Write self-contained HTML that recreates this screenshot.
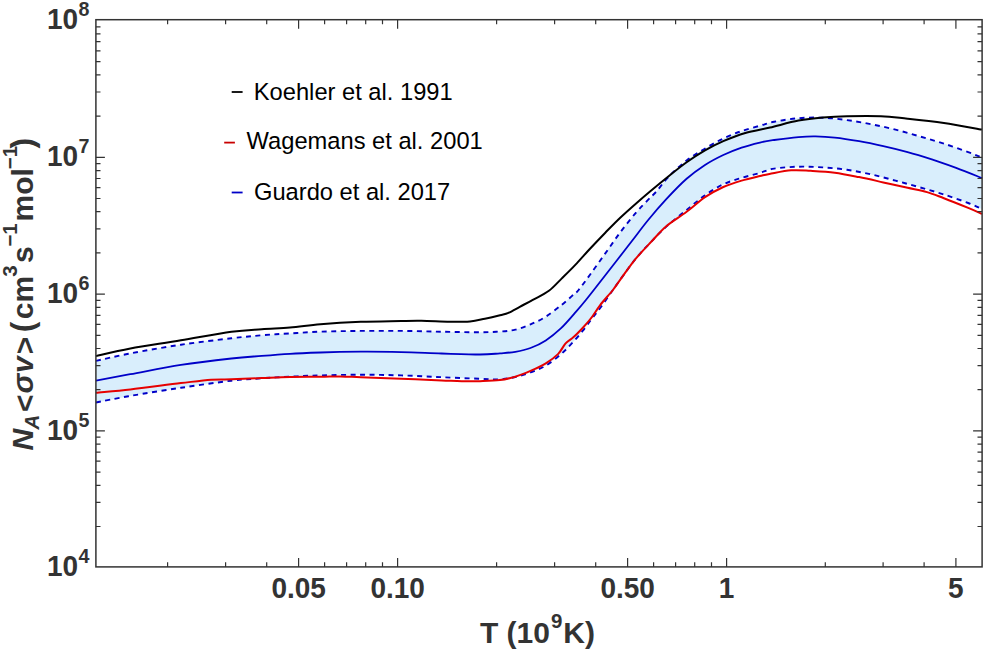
<!DOCTYPE html>
<html lang="en">
<head>
<meta charset="utf-8">
<title>Reaction rate plot</title>
<style>
html,body{margin:0;padding:0;background:#fff;}
body{width:990px;height:655px;overflow:hidden;}
svg{display:block;}
text{font-family:"Liberation Sans", Arial, Helvetica, sans-serif;}
.tk{font-weight:bold;font-size:29px;fill:#333;}
.ax{font-weight:bold;font-size:30px;fill:#333;}
.lg{font-size:23.7px;fill:#000;}
</style>
</head>
<body>
<svg width="990" height="655" viewBox="0 0 990 655">
<rect x="0" y="0" width="990" height="655" fill="#ffffff"/>
<path d="M96.0 360.9 C101.7 359.6 116.2 356.1 130.4 353.4 C144.6 350.7 164.1 347.2 180.9 344.7 C197.7 342.2 217.9 339.9 231.4 338.3 C244.9 336.7 251.9 336.1 261.7 335.3 C271.5 334.5 280.2 334.0 290.0 333.4 C299.8 332.8 308.6 332.1 320.4 331.7 C332.2 331.3 347.3 331.0 360.8 330.9 C374.3 330.8 387.7 330.8 401.2 330.9 C414.7 331.0 428.5 331.5 441.6 331.7 C454.7 331.9 470.3 332.3 480.0 332.3 C489.7 332.3 494.1 331.9 500.0 331.5 C505.9 331.1 510.2 330.9 515.3 329.7 C520.4 328.5 525.4 326.6 530.5 324.4 C535.6 322.2 540.7 319.9 545.8 316.7 C550.9 313.5 556.8 308.7 561.1 305.3 C565.4 301.9 568.9 298.7 571.8 296.1 C574.7 293.6 575.6 293.6 578.6 290.0 C581.6 286.4 585.5 280.8 590.0 274.7 C594.5 268.6 600.2 260.5 605.3 253.4 C610.4 246.3 615.4 238.8 620.5 232.0 C625.6 225.2 631.2 218.2 635.8 212.9 C640.4 207.6 644.6 203.5 648.0 199.9 C651.4 196.3 653.0 195.3 656.4 191.5 C659.8 187.7 663.3 182.2 668.3 177.0 C673.3 171.8 680.5 165.2 686.6 160.5 C692.7 155.8 698.9 152.3 705.0 148.6 C711.1 144.9 717.2 141.4 723.3 138.5 C729.4 135.6 735.5 133.2 741.6 131.1 C747.7 129.0 754.5 127.2 759.9 125.7 C765.3 124.2 767.8 123.0 774.2 121.8 C780.6 120.5 790.4 118.9 798.5 118.2 C806.6 117.5 814.6 117.4 822.7 117.7 C830.8 118.0 838.9 119.0 847.0 120.1 C855.1 121.2 863.1 122.6 871.2 124.2 C879.3 125.8 887.4 127.6 895.5 129.6 C903.6 131.6 911.6 134.1 919.7 136.4 C927.8 138.7 935.8 141.0 943.9 143.6 C952.0 146.2 961.9 149.8 968.2 152.1 C974.6 154.4 979.7 156.6 982.0 157.5 L982.0 209.1 C979.7 208.1 974.6 205.4 968.2 203.0 C961.9 200.6 952.0 197.1 943.9 194.5 C935.8 191.9 927.8 189.6 919.7 187.3 C911.6 185.0 903.6 182.8 895.5 180.7 C887.4 178.5 879.3 176.2 871.2 174.4 C863.1 172.6 855.1 171.0 847.0 169.8 C838.9 168.6 830.8 167.9 822.7 167.4 C814.6 166.9 806.6 166.5 798.5 166.7 C790.4 166.9 780.6 167.6 774.2 168.6 C767.8 169.6 765.3 171.3 759.9 172.9 C754.5 174.5 747.7 176.0 741.6 177.9 C735.5 179.8 729.4 181.4 723.3 184.3 C717.2 187.2 711.1 191.0 705.0 195.3 C698.9 199.6 693.1 204.7 686.6 209.9 C680.1 215.1 672.2 221.3 666.3 226.6 C660.4 231.9 656.2 236.6 651.1 241.9 C646.0 247.2 640.9 252.5 635.8 258.7 C630.7 264.9 624.3 274.1 620.5 279.3 C616.7 284.5 616.3 285.2 612.9 290.0 C609.5 294.8 603.5 303.5 600.0 308.3 C596.5 313.1 594.5 315.2 591.6 319.0 C588.7 322.8 585.7 327.1 582.4 331.2 C579.1 335.3 575.3 339.6 571.8 343.4 C568.2 347.2 565.4 350.4 561.1 354.1 C556.8 357.8 550.9 362.6 545.8 365.6 C540.7 368.7 535.6 370.5 530.5 372.4 C525.4 374.3 520.4 375.9 515.3 377.0 C510.2 378.1 505.9 379.0 500.0 379.3 C494.1 379.6 489.7 379.2 480.0 378.8 C470.3 378.4 454.7 377.8 441.6 377.2 C428.5 376.6 414.7 375.8 401.2 375.4 C387.7 375.0 374.3 374.7 360.8 374.7 C347.3 374.7 332.2 375.1 320.4 375.4 C308.6 375.7 299.8 376.2 290.0 376.7 C280.2 377.2 271.5 377.6 261.7 378.3 C251.9 379.0 244.9 379.1 231.4 380.7 C217.9 382.3 197.7 385.3 180.9 387.8 C164.1 390.3 144.6 393.4 130.4 395.9 C116.2 398.3 101.7 401.4 96.0 402.5 Z" fill="#d9eefc" stroke="none"/>
<path d="M96.0 360.9 C101.7 359.6 116.2 356.1 130.4 353.4 C144.6 350.7 164.1 347.2 180.9 344.7 C197.7 342.2 217.9 339.9 231.4 338.3 C244.9 336.7 251.9 336.1 261.7 335.3 C271.5 334.5 280.2 334.0 290.0 333.4 C299.8 332.8 308.6 332.1 320.4 331.7 C332.2 331.3 347.3 331.0 360.8 330.9 C374.3 330.8 387.7 330.8 401.2 330.9 C414.7 331.0 428.5 331.5 441.6 331.7 C454.7 331.9 470.3 332.3 480.0 332.3 C489.7 332.3 494.1 331.9 500.0 331.5 C505.9 331.1 510.2 330.9 515.3 329.7 C520.4 328.5 525.4 326.6 530.5 324.4 C535.6 322.2 540.7 319.9 545.8 316.7 C550.9 313.5 556.8 308.7 561.1 305.3 C565.4 301.9 568.9 298.7 571.8 296.1 C574.7 293.6 575.6 293.6 578.6 290.0 C581.6 286.4 585.5 280.8 590.0 274.7 C594.5 268.6 600.2 260.5 605.3 253.4 C610.4 246.3 615.4 238.8 620.5 232.0 C625.6 225.2 631.2 218.2 635.8 212.9 C640.4 207.6 644.6 203.5 648.0 199.9 C651.4 196.3 653.0 195.3 656.4 191.5 C659.8 187.7 663.3 182.2 668.3 177.0 C673.3 171.8 680.5 165.2 686.6 160.5 C692.7 155.8 698.9 152.3 705.0 148.6 C711.1 144.9 717.2 141.4 723.3 138.5 C729.4 135.6 735.5 133.2 741.6 131.1 C747.7 129.0 754.5 127.2 759.9 125.7 C765.3 124.2 767.8 123.0 774.2 121.8 C780.6 120.5 790.4 118.9 798.5 118.2 C806.6 117.5 814.6 117.4 822.7 117.7 C830.8 118.0 838.9 119.0 847.0 120.1 C855.1 121.2 863.1 122.6 871.2 124.2 C879.3 125.8 887.4 127.6 895.5 129.6 C903.6 131.6 911.6 134.1 919.7 136.4 C927.8 138.7 935.8 141.0 943.9 143.6 C952.0 146.2 961.9 149.8 968.2 152.1 C974.6 154.4 979.7 156.6 982.0 157.5" fill="none" stroke="#0000c8" stroke-width="1.9" stroke-dasharray="5 4.5"/>
<path d="M96.0 402.5 C101.7 401.4 116.2 398.3 130.4 395.9 C144.6 393.4 164.1 390.3 180.9 387.8 C197.7 385.3 217.9 382.3 231.4 380.7 C244.9 379.1 251.9 379.0 261.7 378.3 C271.5 377.6 280.2 377.2 290.0 376.7 C299.8 376.2 308.6 375.7 320.4 375.4 C332.2 375.1 347.3 374.7 360.8 374.7 C374.3 374.7 387.7 375.0 401.2 375.4 C414.7 375.8 428.5 376.6 441.6 377.2 C454.7 377.8 470.3 378.4 480.0 378.8 C489.7 379.2 494.1 379.6 500.0 379.3 C505.9 379.0 510.2 378.1 515.3 377.0 C520.4 375.9 525.4 374.3 530.5 372.4 C535.6 370.5 540.7 368.7 545.8 365.6 C550.9 362.6 556.8 357.8 561.1 354.1 C565.4 350.4 568.2 347.2 571.8 343.4 C575.3 339.6 579.1 335.3 582.4 331.2 C585.7 327.1 588.7 322.8 591.6 319.0 C594.5 315.2 596.5 313.1 600.0 308.3 C603.5 303.5 609.5 294.8 612.9 290.0 C616.3 285.2 616.7 284.5 620.5 279.3 C624.3 274.1 630.7 264.9 635.8 258.7 C640.9 252.5 646.0 247.2 651.1 241.9 C656.2 236.6 660.4 231.9 666.3 226.6 C672.2 221.3 680.1 215.1 686.6 209.9 C693.1 204.7 698.9 199.6 705.0 195.3 C711.1 191.0 717.2 187.2 723.3 184.3 C729.4 181.4 735.5 179.8 741.6 177.9 C747.7 176.0 754.5 174.5 759.9 172.9 C765.3 171.3 767.8 169.6 774.2 168.6 C780.6 167.6 790.4 166.9 798.5 166.7 C806.6 166.5 814.6 166.9 822.7 167.4 C830.8 167.9 838.9 168.6 847.0 169.8 C855.1 171.0 863.1 172.6 871.2 174.4 C879.3 176.2 887.4 178.5 895.5 180.7 C903.6 182.8 911.6 185.0 919.7 187.3 C927.8 189.6 935.8 191.9 943.9 194.5 C952.0 197.1 961.9 200.6 968.2 203.0 C974.6 205.4 979.7 208.1 982.0 209.1" fill="none" stroke="#0000c8" stroke-width="1.9" stroke-dasharray="5 4.5"/>
<path d="M96.0 380.7 C101.7 379.6 116.2 376.8 130.4 374.2 C144.6 371.6 164.1 367.5 180.9 364.9 C197.7 362.3 217.9 360.0 231.4 358.5 C244.9 357.0 251.9 356.7 261.7 355.9 C271.5 355.1 280.2 354.4 290.0 353.8 C299.8 353.2 308.6 352.9 320.4 352.5 C332.2 352.1 347.3 351.8 360.8 351.7 C374.3 351.6 387.7 351.8 401.2 352.1 C414.7 352.4 428.5 353.1 441.6 353.5 C454.7 353.9 470.3 354.5 480.0 354.5 C489.7 354.5 494.1 353.8 500.0 353.4 C505.9 352.9 510.2 352.7 515.3 351.8 C520.4 350.9 525.4 349.9 530.5 348.0 C535.6 346.1 540.7 343.7 545.8 340.4 C550.9 337.1 556.0 333.0 561.1 328.2 C566.2 323.4 572.2 316.1 576.3 311.4 C580.4 306.7 581.7 305.2 585.9 300.0 C590.1 294.8 596.4 286.7 601.6 280.0 C606.8 273.3 612.0 266.7 617.2 260.0 C622.4 253.3 627.5 246.7 632.7 240.0 C637.9 233.3 642.6 226.8 648.2 220.0 C653.8 213.2 659.9 206.1 666.3 199.2 C672.7 192.3 680.1 184.5 686.6 178.8 C693.1 173.1 698.9 169.0 705.0 165.0 C711.1 161.0 717.2 157.9 723.3 155.0 C729.4 152.1 735.5 149.7 741.6 147.6 C747.7 145.5 754.5 143.8 759.9 142.5 C765.3 141.2 767.8 140.9 774.2 140.0 C780.6 139.1 791.6 137.7 798.5 137.1 C805.4 136.5 809.5 136.3 815.5 136.4 C821.5 136.5 827.5 136.8 834.8 137.6 C842.1 138.4 851.0 139.8 859.1 141.2 C867.2 142.6 875.2 144.3 883.3 146.1 C891.4 147.9 899.5 149.9 907.6 152.1 C915.7 154.3 923.7 156.8 931.8 159.4 C939.9 162.0 947.7 164.8 956.1 167.9 C964.5 171.0 977.7 176.4 982.0 178.1" fill="none" stroke="#0000c8" stroke-width="1.8" stroke-linejoin="round"/>
<path d="M96.0 356.1 C101.7 354.8 116.2 351.0 130.4 348.4 C144.6 345.8 164.1 343.1 180.9 340.3 C197.7 337.5 217.9 333.7 231.4 331.8 C244.9 329.9 251.9 329.9 261.7 329.2 C271.5 328.5 280.2 328.4 290.0 327.6 C299.8 326.8 308.6 325.2 320.4 324.2 C332.2 323.2 347.3 322.3 360.8 321.8 C374.3 321.3 391.1 321.2 401.2 321.0 C411.3 320.8 413.3 320.7 421.4 320.8 C429.5 320.9 441.6 321.7 449.7 321.8 C457.8 321.9 464.1 321.9 470.0 321.4 C475.9 320.9 479.9 319.7 484.9 318.7 C489.9 317.7 496.1 316.2 500.0 315.2 C503.9 314.2 505.1 314.3 508.4 312.9 C511.7 311.5 515.7 309.0 519.8 306.8 C523.9 304.6 527.9 302.6 532.8 299.9 C537.6 297.2 544.1 294.4 548.9 290.8 C553.7 287.2 557.2 282.9 561.6 278.6 C566.0 274.3 570.6 269.9 575.3 264.9 C580.0 259.9 585.0 254.2 590.0 248.8 C595.0 243.4 600.2 237.9 605.3 232.7 C610.4 227.5 615.4 222.3 620.5 217.5 C625.6 212.7 630.9 208.0 635.8 203.7 C640.7 199.4 644.6 196.0 650.0 191.5 C655.4 187.0 662.2 181.4 668.3 176.5 C674.4 171.6 680.5 166.7 686.6 162.3 C692.7 158.0 698.9 153.9 705.0 150.4 C711.1 146.9 716.6 144.1 723.3 141.2 C730.0 138.3 737.5 135.3 745.3 133.0 C753.1 130.7 761.1 129.6 770.0 127.5 C778.9 125.4 789.7 122.3 798.5 120.6 C807.3 118.9 814.6 118.2 822.7 117.5 C830.8 116.8 837.3 116.4 847.0 116.2 C856.7 116.0 870.8 115.8 880.9 116.2 C891.0 116.6 897.1 117.6 907.6 118.7 C918.1 119.8 931.5 121.2 943.9 123.0 C956.3 124.8 975.6 128.5 982.0 129.6" fill="none" stroke="#000" stroke-width="2.0" stroke-linejoin="round"/>
<path d="M96.0 392.8 C101.7 392.2 116.2 391.0 130.4 389.4 C144.6 387.8 167.4 384.7 180.9 383.1 C194.4 381.5 202.8 380.3 211.2 379.7 C219.6 379.1 223.0 379.6 231.4 379.3 C239.8 379.0 251.9 378.5 261.7 378.1 C271.5 377.7 280.2 377.2 290.0 377.0 C299.8 376.8 312.0 376.9 320.4 376.8 C328.8 376.7 333.9 376.3 340.6 376.4 C347.3 376.5 350.7 376.8 360.8 377.2 C370.9 377.6 387.7 378.3 401.2 378.8 C414.7 379.3 431.5 380.0 441.6 380.4 C451.7 380.8 455.4 381.1 461.8 381.2 C468.2 381.3 473.6 381.4 480.0 381.2 C486.4 381.0 494.1 380.9 500.0 380.1 C505.9 379.4 510.2 378.2 515.3 376.7 C520.4 375.2 525.4 373.1 530.5 370.9 C535.6 368.7 541.2 366.1 545.8 363.3 C550.4 360.5 554.7 357.4 558.0 354.1 C561.3 350.8 563.1 346.2 565.6 343.4 C568.1 340.6 570.5 339.8 573.3 337.3 C576.1 334.8 579.3 331.5 582.4 328.2 C585.5 324.9 588.7 321.3 591.6 317.5 C594.5 313.7 596.5 309.9 600.0 305.3 C603.5 300.7 609.5 294.3 612.9 290.0 C616.3 285.7 616.7 284.5 620.5 279.3 C624.3 274.1 630.7 264.9 635.8 258.7 C640.9 252.5 646.0 247.3 651.1 241.9 C656.2 236.5 660.4 231.2 666.3 226.2 C672.2 221.2 680.1 216.7 686.6 211.8 C693.1 207.0 698.9 201.2 705.0 197.1 C711.1 193.0 717.2 189.8 723.3 187.0 C729.4 184.2 735.5 182.4 741.6 180.6 C747.7 178.8 755.3 177.1 759.9 176.0 C764.5 174.9 764.2 174.8 769.4 173.9 C774.6 173.0 784.3 170.8 791.2 170.3 C798.1 169.8 803.3 170.4 810.6 170.8 C817.9 171.2 826.7 171.6 834.8 172.7 C842.9 173.8 851.0 175.5 859.1 177.1 C867.2 178.7 875.2 180.6 883.3 182.4 C891.4 184.2 900.3 186.2 907.6 187.8 C914.9 189.4 921.0 190.4 927.0 192.1 C933.0 193.8 937.0 195.6 943.9 198.2 C950.8 200.8 961.9 205.3 968.2 207.9 C974.6 210.5 979.7 212.9 982.0 213.9" fill="none" stroke="#e60000" stroke-width="2.0" stroke-linejoin="round"/>
<path d="M95.9 526.5 L100.5 526.5 M982.1 526.5 L977.5 526.5 M95.9 502.4 L100.5 502.4 M982.1 502.4 L977.5 502.4 M95.9 485.3 L100.5 485.3 M982.1 485.3 L977.5 485.3 M95.9 472.1 L100.5 472.1 M982.1 472.1 L977.5 472.1 M95.9 461.2 L100.5 461.2 M982.1 461.2 L977.5 461.2 M95.9 452.1 L100.5 452.1 M982.1 452.1 L977.5 452.1 M95.9 444.2 L100.5 444.2 M982.1 444.2 L977.5 444.2 M95.9 437.2 L100.5 437.2 M982.1 437.2 L977.5 437.2 M95.9 430.9 L104.9 430.9 M982.1 430.9 L973.1 430.9 M95.9 389.7 L100.5 389.7 M982.1 389.7 L977.5 389.7 M95.9 365.6 L100.5 365.6 M982.1 365.6 L977.5 365.6 M95.9 348.5 L100.5 348.5 M982.1 348.5 L977.5 348.5 M95.9 335.3 L100.5 335.3 M982.1 335.3 L977.5 335.3 M95.9 324.4 L100.5 324.4 M982.1 324.4 L977.5 324.4 M95.9 315.3 L100.5 315.3 M982.1 315.3 L977.5 315.3 M95.9 307.4 L100.5 307.4 M982.1 307.4 L977.5 307.4 M95.9 300.4 L100.5 300.4 M982.1 300.4 L977.5 300.4 M95.9 294.1 L104.9 294.1 M982.1 294.1 L973.1 294.1 M95.9 252.9 L100.5 252.9 M982.1 252.9 L977.5 252.9 M95.9 228.8 L100.5 228.8 M982.1 228.8 L977.5 228.8 M95.9 211.7 L100.5 211.7 M982.1 211.7 L977.5 211.7 M95.9 198.5 L100.5 198.5 M982.1 198.5 L977.5 198.5 M95.9 187.6 L100.5 187.6 M982.1 187.6 L977.5 187.6 M95.9 178.5 L100.5 178.5 M982.1 178.5 L977.5 178.5 M95.9 170.6 L100.5 170.6 M982.1 170.6 L977.5 170.6 M95.9 163.6 L100.5 163.6 M982.1 163.6 L977.5 163.6 M95.9 157.3 L104.9 157.3 M982.1 157.3 L973.1 157.3 M95.9 116.1 L100.5 116.1 M982.1 116.1 L977.5 116.1 M95.9 92.0 L100.5 92.0 M982.1 92.0 L977.5 92.0 M95.9 74.9 L100.5 74.9 M982.1 74.9 L977.5 74.9 M95.9 61.7 L100.5 61.7 M982.1 61.7 L977.5 61.7 M95.9 50.8 L100.5 50.8 M982.1 50.8 L977.5 50.8 M95.9 41.7 L100.5 41.7 M982.1 41.7 L977.5 41.7 M95.9 33.8 L100.5 33.8 M982.1 33.8 L977.5 33.8 M95.9 26.8 L100.5 26.8 M982.1 26.8 L977.5 26.8 M167.6 566.9 L167.6 562.3 M167.6 19.7 L167.6 24.3 M225.6 566.9 L225.6 562.3 M225.6 19.7 L225.6 24.3 M266.7 566.9 L266.7 562.3 M266.7 19.7 L266.7 24.3 M298.6 566.9 L298.6 557.9 M298.6 19.7 L298.6 28.7 M324.6 566.9 L324.6 562.3 M324.6 19.7 L324.6 24.3 M346.6 566.9 L346.6 562.3 M346.6 19.7 L346.6 24.3 M365.7 566.9 L365.7 562.3 M365.7 19.7 L365.7 24.3 M382.5 566.9 L382.5 562.3 M382.5 19.7 L382.5 24.3 M397.6 566.9 L397.6 557.9 M397.6 19.7 L397.6 28.7 M496.6 566.9 L496.6 562.3 M496.6 19.7 L496.6 24.3 M554.6 566.9 L554.6 562.3 M554.6 19.7 L554.6 24.3 M595.7 566.9 L595.7 562.3 M595.7 19.7 L595.7 24.3 M627.6 566.9 L627.6 557.9 M627.6 19.7 L627.6 28.7 M653.6 566.9 L653.6 562.3 M653.6 19.7 L653.6 24.3 M675.6 566.9 L675.6 562.3 M675.6 19.7 L675.6 24.3 M694.7 566.9 L694.7 562.3 M694.7 19.7 L694.7 24.3 M711.5 566.9 L711.5 562.3 M711.5 19.7 L711.5 24.3 M726.6 566.9 L726.6 557.9 M726.6 19.7 L726.6 28.7 M825.3 566.9 L825.3 562.3 M825.3 19.7 L825.3 24.3 M883.1 566.9 L883.1 562.3 M883.1 19.7 L883.1 24.3 M924.1 566.9 L924.1 562.3 M924.1 19.7 L924.1 24.3 M955.9 566.9 L955.9 557.9 M955.9 19.7 L955.9 28.7" fill="none" stroke="#333" stroke-width="1.2"/>
<rect x="95.9" y="19.7" width="886.2" height="547.2" fill="none" stroke="#333" stroke-width="1.5"/>
<text class="tk" transform="translate(78.0 576.4) scale(0.965 1)" text-anchor="end">10</text><text class="tk" transform="translate(78.6 563.3) scale(0.965 1)" text-anchor="start" style="font-size:20.4px">4</text>
<text class="tk" transform="translate(78.0 439.6) scale(0.965 1)" text-anchor="end">10</text><text class="tk" transform="translate(78.6 426.5) scale(0.965 1)" text-anchor="start" style="font-size:20.4px">5</text>
<text class="tk" transform="translate(78.0 302.8) scale(0.965 1)" text-anchor="end">10</text><text class="tk" transform="translate(78.6 289.7) scale(0.965 1)" text-anchor="start" style="font-size:20.4px">6</text>
<text class="tk" transform="translate(78.0 166.0) scale(0.965 1)" text-anchor="end">10</text><text class="tk" transform="translate(78.6 152.9) scale(0.965 1)" text-anchor="start" style="font-size:20.4px">7</text>
<text class="tk" transform="translate(78.0 29.2) scale(0.965 1)" text-anchor="end">10</text><text class="tk" transform="translate(78.6 16.1) scale(0.965 1)" text-anchor="start" style="font-size:20.4px">8</text>
<text class="tk" transform="translate(298.6 597.6) scale(0.965 1)" text-anchor="middle">0.05</text>
<text class="tk" transform="translate(397.6 597.6) scale(0.965 1)" text-anchor="middle">0.10</text>
<text class="tk" transform="translate(627.6 597.6) scale(0.965 1)" text-anchor="middle">0.50</text>
<text class="tk" transform="translate(726.6 597.6) scale(0.965 1)" text-anchor="middle">1</text>
<text class="tk" transform="translate(955.9 597.6) scale(0.965 1)" text-anchor="middle">5</text>
<text class="ax" x="480.0" y="643.3" style="font-size:30px">T</text><text class="ax" x="506.5" y="643.3" style="font-size:30px">(10</text><text class="ax" x="551.0" y="628.3" style="font-size:20.5px">9</text><text class="ax" x="563.3" y="643.3" style="font-size:30px">K)</text>
<text class="ax" transform="translate(33.3 450.4) rotate(-90)" style="font-size:30px;font-style:italic">N</text><text class="ax" transform="translate(39.3 429.6) rotate(-90)" style="font-size:20.5px;font-style:italic">A</text><text class="ax" transform="translate(35.3 412.0) rotate(-90)" style="font-size:30px">&lt;</text><text class="ax" transform="translate(33.3 393.5) rotate(-90)" style="font-size:30px;font-style:italic">&#963;</text><text class="ax" transform="translate(33.3 373.0) rotate(-90)" style="font-size:30px;font-style:italic">v</text><text class="ax" transform="translate(35.3 354.2) rotate(-90)" style="font-size:30px">&gt;</text><text class="ax" transform="translate(33.0 332.3) rotate(-90)" style="font-size:32px">(</text><text class="ax" transform="translate(33.3 319.2) rotate(-90)" style="font-size:30px">cm</text><text class="ax" transform="translate(17.3 276.8) rotate(-90)" style="font-size:20.5px">3</text><text class="ax" transform="translate(33.3 263.1) rotate(-90)" style="font-size:30px">s</text><text class="ax" transform="translate(17.3 246.6) rotate(-90)" style="font-size:20.5px">&#8722;1</text><text class="ax" transform="translate(33.3 221.5) rotate(-90)" style="font-size:30px">mol</text><text class="ax" transform="translate(17.3 169.3) rotate(-90)" style="font-size:20.5px">&#8722;1</text><text class="ax" transform="translate(33.0 148.4) rotate(-90)" style="font-size:32px">)</text>
<path d="M231.7 92.0 H242.6" stroke="#000" stroke-width="1.8"/><text class="lg" x="253.8" y="99.8">Koehler et al. 1991</text>
<path d="M224.2 142.6 H234.9" stroke="#c80000" stroke-width="1.8"/><text class="lg" x="246.6" y="149.3">Wagemans et al. 2001</text>
<path d="M231.7 192.5 H242.6" stroke="#0000c8" stroke-width="1.8"/><text class="lg" x="254.0" y="200.0">Guardo et al. 2017</text>
</svg>
</body>
</html>
